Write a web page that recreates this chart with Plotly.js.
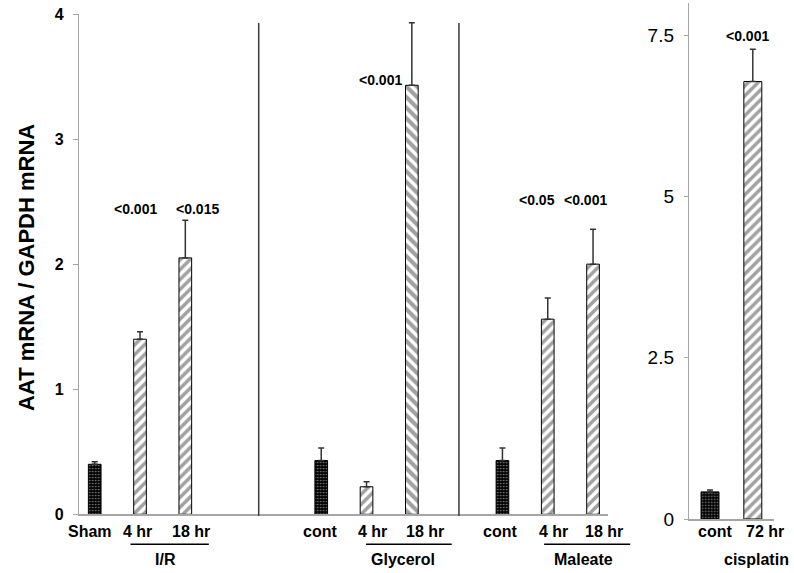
<!DOCTYPE html>
<html>
<head>
<meta charset="utf-8">
<script src="https://cdn.plot.ly/plotly-3.0.1.min.js"></script>
<style>html,body{margin:0;padding:0;background:#fff}#chart{width:794px;height:573px}</style>
</head>
<body>
<div id="chart"></div>
<script>
// ---- data ----
const leftCategories = ['Sham', '4 hr', '18 hr', 'cont', '4 hr', '18 hr', 'cont', '4 hr', '18 hr'];
const leftSlot = [0, 1, 2, 5, 6, 7, 9, 10, 11];          // category slot on the axis
const leftValues = [0.40, 1.40, 2.05, 0.43, 0.22, 3.43, 0.43, 1.56, 2.00];
const leftErrors = [0.02, 0.06, 0.30, 0.10, 0.04, 0.50, 0.10, 0.17, 0.28];
const leftGroups = ['I/R', 'Glycerol', 'Maleate'];
const leftPValues = ['<0.001', '<0.015', '<0.001', '<0.05', '<0.001'];
const leftPBar = [1, 2, 5, 7, 8];                          // index of bar each p-value belongs to

const rightCategories = ['cont', '72 hr'];
const rightValues = [0.42, 6.78];
const rightErrors = [0.03, 0.50];
const rightGroup = 'cisplatin';
const rightPValues = ['<0.001'];
const rightPBar = [1];

const yTitle = 'AAT mRNA / GAPDH mRNA';

// ---- styles / placement ----
const W = 794, H = 573;
const FONT = 'Liberation Sans, Arial, Helvetica, sans-serif';
const L = {xd: [79.3 / W, 608 / W], yd: [(H - 514.3) / H, (H - 14) / H], xr: [-0.34, 11.33], yr: [0, 4]};
const R = {xd: [689.3 / W, 774 / W], yd: [(H - 519) / H, (H - 2.8) / H], xr: [-0.484, 1.495], yr: [0, 8]};
const leftKind = ['dot', 'fw', 'fw', 'dot', 'fw', 'bw', 'dot', 'fw', 'fw'];
const rightKind = ['dot', 'fw'];
const leftLabelShift = [-5, -3, 6, -1, 6, 13, -2, 6, 11];
const rightLabelShift = [5, 12];
const groupLabelX = [1.57, 6.81, 10.80];
const groupLineX = [[0.79, 2.52], [5.99, 7.88], [9.92, 11.82]];
const separatorX = [3.62, 8.04];
const pLabelY = [2.44, 2.44, 3.47, 2.51, 2.51];
const pLabelShift = [-5, 12, -31, -11, -8];

function toPaper(ax, v) { return ax.xd[0] + (v - ax.xr[0]) / (ax.xr[1] - ax.xr[0]) * (ax.xd[1] - ax.xd[0]); }

function patternFor(kinds) {
  return {
    shape: kinds.map(k => k === 'dot' ? '.' : (k === 'fw' ? '/' : '\\')),
    bgcolor: kinds.map(k => k === 'dot' ? '#000000' : '#ffffff'),
    fgcolor: kinds.map(k => k === 'dot' ? '#ffffff' : '#000000'),
    size: kinds.map(k => k === 'dot' ? 3 : (k === 'bw' ? 7.5 : 7)),
    solidity: kinds.map(k => k === 'dot' ? 0.25 : (k === 'bw' ? 0.55 : 0.5)),
    fillmode: 'overlay'
  };
}

const errStyle = {type: 'data', symmetric: false, color: '#333333', thickness: 1.5, width: 3};

const traces = [
  {
    type: 'bar', x: leftSlot, y: leftValues, width: 0.28, xaxis: 'x', yaxis: 'y',
    marker: {color: leftKind.map(k => k === 'dot' ? '#000' : '#fff'), pattern: patternFor(leftKind), line: {color: '#000', width: 1}},
    error_y: Object.assign({array: leftErrors, arrayminus: leftErrors.map(() => 0)}, errStyle),
    hoverinfo: 'skip'
  },
  {
    type: 'bar', x: rightCategories.map((c, i) => i), y: rightValues, width: 0.42, xaxis: 'x2', yaxis: 'y2',
    marker: {color: rightKind.map(k => k === 'dot' ? '#000' : '#fff'), pattern: patternFor(rightKind), line: {color: '#000', width: 1}},
    error_y: Object.assign({array: rightErrors, arrayminus: rightErrors.map(() => 0)}, errStyle),
    hoverinfo: 'skip'
  }
];

const annotations = [];
const labelFont = {family: FONT, size: 16, color: '#000'};
leftCategories.forEach((c, i) => annotations.push({
  text: '<b>' + c + '</b>', x: leftSlot[i], xref: 'x', y: (H - 531.5) / H, yref: 'paper',
  xanchor: 'center', yanchor: 'middle', showarrow: false, xshift: leftLabelShift[i], font: labelFont
}));
leftGroups.forEach((g, i) => annotations.push({
  text: '<b>' + g + '</b>', x: groupLabelX[i], xref: 'x', y: (H - 559) / H, yref: 'paper',
  xanchor: 'center', yanchor: 'middle', showarrow: false, font: labelFont
}));
rightCategories.forEach((c, i) => annotations.push({
  text: '<b>' + c + '</b>', x: i, xref: 'x2', y: (H - 531.5) / H, yref: 'paper',
  xanchor: 'center', yanchor: 'middle', showarrow: false, xshift: rightLabelShift[i], font: labelFont
}));
annotations.push({
  text: '<b>' + rightGroup + '</b>', x: 1.09, xref: 'x2', y: (H - 559) / H, yref: 'paper',
  xanchor: 'center', yanchor: 'middle', showarrow: false, font: labelFont
});
const pFont = {family: FONT, size: 14, color: '#000'};
leftPValues.forEach((p, i) => annotations.push({
  text: '<b>' + p + '</b>', x: leftSlot[leftPBar[i]], xref: 'x', y: pLabelY[i], yref: 'y',
  xanchor: 'center', yanchor: 'middle', showarrow: false, xshift: pLabelShift[i], font: pFont
}));
rightPValues.forEach((p, i) => annotations.push({
  text: '<b>' + p + '</b>', x: rightPBar[i], xref: 'x2', y: 7.49, yref: 'y2',
  xanchor: 'center', yanchor: 'middle', showarrow: false, xshift: -5, font: pFont
}));
annotations.push({
  text: '<b>' + yTitle + '</b>', textangle: -90, x: 26 / W, xref: 'paper', y: (H - 268) / H, yref: 'paper',
  xanchor: 'center', yanchor: 'middle', showarrow: false, font: {family: FONT, size: 22, color: '#000'}
});

const shapes = [];
separatorX.forEach(s => shapes.push({
  type: 'line', xref: 'paper', yref: 'paper', x0: toPaper(L, s), x1: toPaper(L, s),
  y0: (H - 516) / H, y1: (H - 23) / H, line: {color: '#3a3a3a', width: 1.5}
}));
groupLineX.forEach(g => shapes.push({
  type: 'line', xref: 'paper', yref: 'paper', x0: toPaper(L, g[0]), x1: toPaper(L, g[1]),
  y0: (H - 544.3) / H, y1: (H - 544.3) / H, line: {color: '#000', width: 1.5}
}));

const axBase = {showgrid: false, zeroline: false, showline: true, linecolor: '#a6a6a6', linewidth: 1.5, fixedrange: true};
const layout = {
  width: W, height: H, margin: {l: 0, r: 0, t: 0, b: 0},
  paper_bgcolor: '#ffffff', plot_bgcolor: 'rgba(0,0,0,0)', showlegend: false,
  xaxis: Object.assign({}, axBase, {domain: L.xd, range: L.xr, anchor: 'y', showticklabels: false, ticks: ''}),
  yaxis: Object.assign({}, axBase, {domain: L.yd, range: L.yr, anchor: 'x', tickvals: [0, 1, 2, 3, 4],
    ticks: 'outside', ticklen: 5, tickcolor: '#a6a6a6', tickwidth: 1, ticklabelstandoff: 6,
    tickfont: {family: FONT, size: 16, color: '#000', weight: 'bold'}}),
  xaxis2: Object.assign({}, axBase, {domain: R.xd, range: R.xr, anchor: 'y2', showticklabels: false, ticks: ''}),
  yaxis2: Object.assign({}, axBase, {domain: R.yd, range: R.yr, anchor: 'x2', tickvals: [0, 2.5, 5, 7.5],
    ticktext: ['0', '2.5', '5', '7.5'], ticks: 'outside', ticklen: 4, tickcolor: '#a6a6a6', tickwidth: 1,
    ticklabelstandoff: 6, tickfont: {family: FONT, size: 19, color: '#000'}}),
  annotations: annotations, shapes: shapes
};

Plotly.newPlot('chart', traces, layout, {staticPlot: true, displayModeBar: false});
</script>
</body>
</html>
